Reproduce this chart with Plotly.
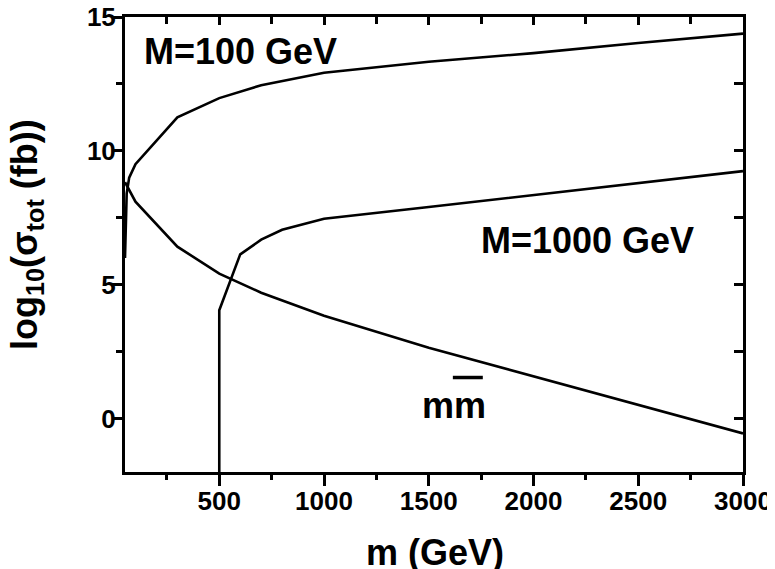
import plotly.graph_objects as go

# Data
m_M100 = [50, 53, 58, 70, 100, 300, 500, 700, 1000, 1500, 2000, 2500, 3000]
s_M100 = [6.0, 7.6, 8.4, 9.0, 9.5, 11.25, 11.97, 12.45, 12.92, 13.33, 13.65, 14.03, 14.38]

m_mm = [50, 100, 300, 500, 700, 1000, 1500, 2000, 2500, 3000]
s_mm = [8.83, 8.1, 6.42, 5.41, 4.7, 3.84, 2.64, 1.57, 0.5, -0.56]

m_M1000 = [500, 500, 600, 700, 800, 1000, 1500, 2000, 2500, 3000]
s_M1000 = [-2.0, 4.04, 6.13, 6.68, 7.05, 7.46, 7.9, 8.35, 8.8, 9.24]

x_range = [50, 3000]
y_range = [-2, 15]
x_ticks = [500, 1000, 1500, 2000, 2500, 3000]
y_ticks = [0, 5, 10, 15]

FONT = "Liberation Sans, Arial, sans-serif"
line = dict(color="black", width=2.6)

fig = go.Figure()
for xs, ys in [(m_M100, s_M100), (m_mm, s_mm), (m_M1000, s_M1000)]:
    fig.add_trace(go.Scatter(x=xs, y=ys, mode="lines", line=line,
                             showlegend=False, hoverinfo="skip"))
# empty trace so the mirrored (top/right) tick axes are drawn
fig.add_trace(go.Scatter(x=[], y=[], xaxis="x2", yaxis="y2",
                         showlegend=False, hoverinfo="skip"))

common = dict(showgrid=False, zeroline=False, tickcolor="black", tickwidth=2.5,
              automargin=False)

# page body has an 8px margin, so the figure is 8px smaller than the window
fig.update_layout(
    width=767, height=561,
    margin=dict(l=117, r=32, t=9, b=97, autoexpand=False),
    paper_bgcolor="white", plot_bgcolor="white",
    font=dict(family=FONT, color="black"),
    xaxis=dict(range=x_range, tickvals=x_ticks, ticks="outside", ticklen=11,
               showline=True, linecolor="black", linewidth=3, mirror=True,
               tickfont=dict(size=26, family=FONT, weight="bold"),
               ticklabeloverflow="allow", ticklabelstandoff=-7,
               minor=dict(dtick=250, tick0=0, ticks="outside", ticklen=5,
                          tickwidth=2.5, tickcolor="black"),
               **common),
    yaxis=dict(range=y_range, tickvals=y_ticks, ticks="outside", ticklen=10,
               showline=True, linecolor="black", linewidth=3, mirror=True,
               tickfont=dict(size=26, family=FONT, weight="bold"),
               ticklabeloverflow="allow", ticklabelstandoff=-9,
               minor=dict(dtick=2.5, tick0=0, ticks="outside", ticklen=6,
                          tickwidth=2.5, tickcolor="black"),
               **common),
    xaxis2=dict(range=x_range, overlaying="x", side="top", anchor="y2",
                tickvals=x_ticks, ticks="inside", ticklen=8, showticklabels=False,
                showline=False,
                minor=dict(dtick=250, tick0=0, ticks="inside", ticklen=7,
                           tickwidth=2.5, tickcolor="black"),
                **common),
    yaxis2=dict(range=y_range, overlaying="y", side="right", anchor="x2",
                tickvals=y_ticks, ticks="inside", ticklen=9, showticklabels=False,
                showline=False,
                minor=dict(dtick=2.5, tick0=0, ticks="inside", ticklen=9,
                           tickwidth=2.5, tickcolor="black"),
                **common),
)

bold36 = dict(size=36, family=FONT, color="black", weight="bold")
ann = dict(showarrow=False, font=bold36, xanchor="center", yanchor="middle")
fig.add_annotation(x=599, y=13.71, xref="x", yref="y", text="M=100 GeV", **ann)
fig.add_annotation(x=2259, y=6.66, xref="x", yref="y", text="M=1000 GeV", **ann)
fig.add_annotation(x=1620, y=0.5, xref="x", yref="y", text="mm", **ann)
fig.add_shape(type="line", x0=1615, x1=1758, y0=1.53, y1=1.53, xref="x", yref="y",
              line=dict(color="black", width=3.5))

fig.add_annotation(x=0.5016, y=-0.178, xref="paper", yref="paper",
                   text="m (GeV)", **ann)
fig.add_annotation(x=-0.1586, y=0.523, xref="paper", yref="paper",
                   text="log<sub>10</sub>(σ<sub>tot</sub> (fb))", textangle=-90, **ann)

fig.write_html("out.html")
